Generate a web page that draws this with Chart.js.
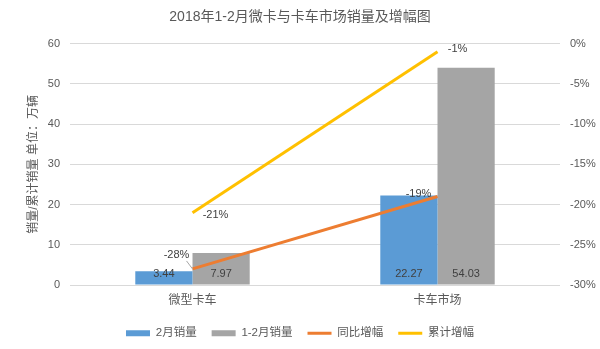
<!DOCTYPE html>
<html><head><meta charset="utf-8">
<script src="https://cdn.jsdelivr.net/npm/chart.js@4/dist/chart.umd.min.js"></script>
<style>html,body{margin:0;padding:0;background:#fff}canvas{display:block}</style>
</head><body>
<canvas id="c" width="600" height="349"></canvas>
<script>
const categories = ['微型卡车', '卡车市场'];
const febSales = [3.44, 22.27];
const cumSales = [7.97, 54.03];
const yoyGrowth = [-28, -19];
const cumGrowth = [-21, -1];
const seriesNames = ['2月销量', '1-2月销量', '同比增幅', '累计增幅'];
const leftTicks = [0, 10, 20, 30, 40, 50, 60];
const rightTicks = [-30, -25, -20, -15, -10, -5, 0];

const FONT = "'Liberation Sans', 'Noto Sans CJK SC', sans-serif";
const TXT = '#595959';

// label offsets (style only)
const lineLabelOffsets = {
  2: [[-16, -14, true], [-19, -3, false]],
  3: [[23, 2, false], [20, -3, false]]
};

const labelPlugin = {
  id: 'labels',
  afterDatasetsDraw(chart) {
    const ctx = chart.ctx;
    ctx.save();
    ctx.font = '11px ' + FONT;
    ctx.textAlign = 'center';
    ctx.textBaseline = 'middle';
    ctx.fillStyle = '#404040';
    [0, 1].forEach(di => {
      const meta = chart.getDatasetMeta(di);
      meta.data.forEach((bar, i) => {
        const v = chart.data.datasets[di].data[i];
        ctx.fillText(v.toFixed(2), bar.x, bar.base - 11);
      });
    });
    [2, 3].forEach(di => {
      const meta = chart.getDatasetMeta(di);
      meta.data.forEach((pt, i) => {
        const v = chart.data.datasets[di].data[i];
        const [dx, dy, leader] = lineLabelOffsets[di][i];
        const tx = pt.x + dx, ty = pt.y + dy;
        if (leader) {
          ctx.strokeStyle = '#A6A6A6';
          ctx.lineWidth = 1;
          ctx.beginPath();
          ctx.moveTo(tx + 10, ty + 6);
          ctx.lineTo(pt.x, pt.y);
          ctx.stroke();
        }
        ctx.fillStyle = '#404040';
        ctx.fillText(v + '%', tx, ty);
      });
    });
    ctx.restore();
  }
};

new Chart(document.getElementById('c'), {
  data: {
    labels: categories,
    datasets: [
      { type: 'bar', label: seriesNames[0], data: febSales, backgroundColor: '#5B9BD5', yAxisID: 'y', order: 2, pointStyle: 'rect',
        categoryPercentage: 0.467, barPercentage: 1.0 },
      { type: 'bar', label: seriesNames[1], data: cumSales, backgroundColor: '#A5A5A5', yAxisID: 'y', order: 2, pointStyle: 'rect',
        categoryPercentage: 0.467, barPercentage: 1.0 },
      { type: 'line', label: seriesNames[2], data: yoyGrowth, borderColor: '#ED7D31', backgroundColor: '#ED7D31', borderWidth: 3,
        pointRadius: 0, pointStyle: 'line', yAxisID: 'y2', order: 1, fill: false, tension: 0 },
      { type: 'line', label: seriesNames[3], data: cumGrowth, borderColor: '#FFC000', backgroundColor: '#FFC000', borderWidth: 3,
        pointRadius: 0, pointStyle: 'line', yAxisID: 'y2', order: 1, fill: false, tension: 0 }
    ]
  },
  options: {
    responsive: false,
    animation: false,
    layout: { padding: 0 },
    plugins: {
      title: { display: true, text: '2018年1-2月微卡与卡车市场销量及增幅图', color: TXT,
        font: { family: FONT, size: 14, weight: 'normal' }, padding: { top: 9, bottom: 18 } },
      legend: { position: 'bottom',
        labels: { usePointStyle: true, pointStyleWidth: 24, boxWidth: 24, boxHeight: 6, padding: 15, color: TXT,
          font: { family: FONT, size: 11.5 },
          sort: (a, b) => a.datasetIndex - b.datasetIndex } },
      tooltip: { enabled: false }
    },
    scales: {
      x: {
        grid: { display: false, drawTicks: false },
        border: { display: false },
        ticks: { color: TXT, font: { family: FONT, size: 12 }, padding: 8 },
        afterFit(s) { s.height = 27.5; }
      },
      y: {
        position: 'left', min: 0, max: 60,
        afterBuildTicks(s) { s.ticks = leftTicks.map(v => ({ value: v })); },
        grid: { color: '#D9D9D9', drawTicks: false, lineWidth: 1 },
        border: { display: false },
        ticks: { color: TXT, font: { family: FONT, size: 11 }, padding: 10 },
        title: { display: true, text: '销量/累计销量 单位：万辆', color: TXT, font: { family: FONT, size: 12 }, padding: { top: 26, bottom: 0 } },
        afterFit(s) { s.width = 70; }
      },
      y2: {
        position: 'right', min: -30, max: 0,
        afterBuildTicks(s) { s.ticks = rightTicks.map(v => ({ value: v })); },
        grid: { display: false, drawTicks: false },
        border: { display: false },
        ticks: { color: TXT, font: { family: FONT, size: 11 }, padding: 10, callback: v => v + '%' },
        afterFit(s) { s.width = 40; }
      }
    }
  },
  plugins: [labelPlugin]
});
</script>
</body></html>
